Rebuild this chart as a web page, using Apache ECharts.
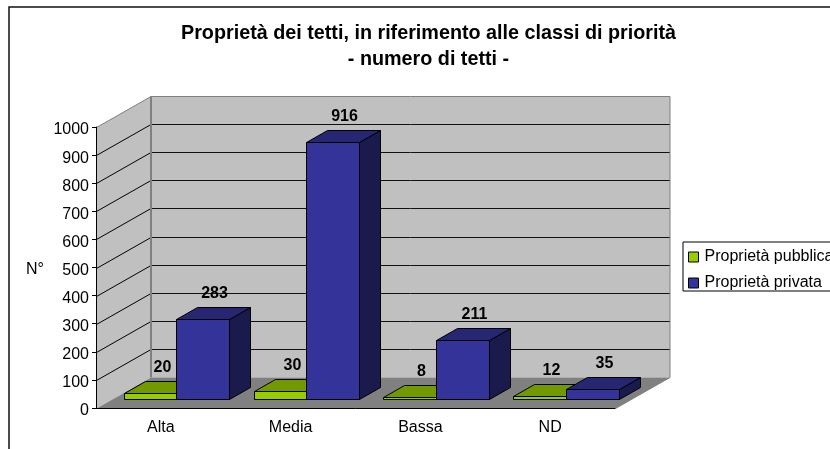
<!DOCTYPE html>
<html>
<head>
<meta charset="utf-8">
<script src="https://cdn.jsdelivr.net/npm/echarts@6/dist/echarts.min.js"></script>
<style>html,body{margin:0;padding:0;background:#fff;overflow:hidden}</style>
</head>
<body>
<div id="main" style="width:830px;height:449px"></div>
<script>
const categories = ['Alta', 'Media', 'Bassa', 'ND'];
const pubblica = [20, 30, 8, 12];
const privata = [283, 916, 211, 35];
const yTicks = [100, 200, 300, 400, 500, 600, 700, 800, 900];

const FONT = '"Liberation Sans", Arial, sans-serif';
// profondita' della scena 3D in pixel
const WALL_DX = 54.5, WALL_DY = 31;
const BAR_DX = 15.5, BAR_DY = 9;
const DEPTH_DX = 21, DEPTH_DY = 12;
const BAR_W = 0.405;

const crisp = v => Math.round(v) + 0.5;

function poly(points, fill, stroke, lw) {
  return {
    type: 'polygon',
    shape: { points: points },
    style: { fill: fill, stroke: stroke, lineWidth: lw === undefined ? 1 : lw }
  };
}
function seg(x1, y1, x2, y2, color, lw) {
  return {
    type: 'line',
    shape: { x1: x1, y1: y1, x2: x2, y2: y2 },
    style: { stroke: color, lineWidth: lw || 1 }
  };
}

// pareti, pavimento
function renderWalls(params, api) {
  const half = api.size([1, 0])[0] / 2;
  const l = crisp(api.coord([0, 0])[0] - half);
  const r = crisp(api.coord([categories.length - 1, 0])[0] + half);
  const y0 = crisp(api.coord([0, 0])[1]);
  const y1 = crisp(api.coord([0, 1000])[1]);
  const dx = WALL_DX, dy = WALL_DY;
  const kids = [
    poly([[l, y1], [l + dx, y1 - dy], [l + dx, y0 - dy], [l, y0]], '#C0C0C0', 'none', 0),
    poly([[l + dx, y1 - dy], [r + dx, y1 - dy], [r + dx, y0 - dy], [l + dx, y0 - dy]], '#C0C0C0', 'none', 0),
    poly([[l, y0], [l + dx, y0 - dy], [r + dx, y0 - dy], [r, y0]], '#808080', 'none', 0)
  ];
  yTicks.forEach(t => {
    const y = crisp(api.coord([0, t])[1]);
    kids.push(seg(l, y, l + dx, y - dy, '#000'));
    kids.push(seg(l + dx, y - dy, r + dx, y - dy, '#111'));
  });
  kids.push(seg(l, y1, l + dx, y1 - dy, '#808080'));
  kids.push(seg(l + dx, y1 - dy, r + dx, y1 - dy, '#808080'));
  kids.push(seg(l + dx, y1 - dy, l + dx, y0 - dy, '#808080', 2));
  kids.push(seg(r + dx, y1 - dy, r + dx, y0 - dy, '#808080'));
  kids.push(seg(r, y0, r + dx, y0 - dy, '#808080'));
  return { type: 'group', children: kids };
}

// barra 3D: fronte, faccia superiore, lato
function barRenderer(side, front, top, dark) {
  return function (params, api) {
    const base = api.coord([api.value(0), 0]);
    const head = api.coord([api.value(0), api.value(1)]);
    const w = api.size([1, 0])[0] * BAR_W;
    const x0 = Math.round(base[0] + side * w + BAR_DX) + 0.5;
    const x1 = x0 + Math.round(w);
    const yb = Math.round(base[1] - BAR_DY) + 0.5;
    const yt = Math.round(head[1] - BAR_DY) + 0.5;
    const dx = DEPTH_DX, dy = DEPTH_DY;
    return {
      type: 'group',
      children: [
        poly([[x1, yb], [x1 + dx, yb - dy], [x1 + dx, yt - dy], [x1, yt]], dark, '#000'),
        poly([[x0, yt], [x0 + dx, yt - dy], [x1 + dx, yt - dy], [x1, yt]], top, '#000'),
        poly([[x0, yb], [x1, yb], [x1, yt], [x0, yt]], front, '#000'),
        {
          type: 'text',
          style: {
            x: (x0 + x1) / 2 + dx / 2 + 1,
            y: yt - dy / 2 - 20,
            text: String(api.value(1)),
            font: 'bold 16px ' + FONT,
            fill: '#000',
            align: 'center',
            verticalAlign: 'middle'
          }
        }
      ]
    };
  };
}

const chart = echarts.init(document.getElementById('main'));
chart.setOption({
  animation: false,
  backgroundColor: '#fff',
  title: {
    text: 'Proprietà dei tetti, in riferimento alle classi di priorità\n- numero di tetti -',
    left: 423.5,
    top: 16,
    textAlign: 'center',
    textStyle: { fontFamily: FONT, fontSize: 19.75, fontWeight: 'bold', color: '#000', lineHeight: 26 }
  },
  legend: {
    orient: 'vertical',
    left: 683,
    top: 242,
    padding: [7, 6, 0, 5],
    itemGap: 10,
    itemWidth: 10,
    itemHeight: 10,
    borderColor: '#000',
    borderWidth: 1,
    icon: 'rect',
    data: ['Proprietà pubblica', 'Proprietà privata'],
    textStyle: { fontFamily: FONT, fontSize: 16, color: '#000', padding: [0, 0, 0, 1], lineHeight: 6, verticalAlign: 'top' },
    itemStyle: { borderColor: '#000', borderWidth: 1 }
  },
  grid: { left: 96, right: 215, top: 127, bottom: 41 },
  xAxis: {
    type: 'category',
    data: categories,
    z: 5,
    axisLine: { lineStyle: { color: '#000' } },
    axisTick: { length: 4, lineStyle: { color: '#000' } },
    axisLabel: { fontFamily: FONT, fontSize: 16, color: '#000', margin: 12 }
  },
  yAxis: {
    type: 'value',
    min: 0,
    max: 1000,
    interval: 100,
    z: 5,
    name: 'N°',
    nameLocation: 'middle',
    nameRotate: 0,
    nameGap: 52,
    nameTextStyle: { fontFamily: FONT, fontSize: 16, color: '#000', verticalAlign: 'top', lineHeight: 4 },
    axisLine: { show: true, lineStyle: { color: '#000' } },
    axisTick: { show: true, length: 4, lineStyle: { color: '#000' } },
    axisLabel: { fontFamily: FONT, fontSize: 16, color: '#000', margin: 7, verticalAlign: 'top', lineHeight: 6, formatter: v => String(v) },
    splitLine: { show: false }
  },
  series: [
    { name: 'walls', type: 'custom', z: 1, silent: true, data: [[0, 0]], renderItem: renderWalls,
      encode: { x: 0, y: 1 } },
    { name: 'Proprietà pubblica', type: 'custom', z: 2, silent: true,
      itemStyle: { color: '#99CC00' },
      data: pubblica.map((v, i) => [i, v]), encode: { x: 0, y: 1 },
      renderItem: barRenderer(-1, '#99CC00', '#739900', '#4D6600') },
    { name: 'Proprietà privata', type: 'custom', z: 3, silent: true,
      itemStyle: { color: '#333399' },
      data: privata.map((v, i) => [i, v]), encode: { x: 0, y: 1 },
      renderItem: barRenderer(0, '#333399', '#262673', '#1A1A4D') }
  ],
  graphic: [{
    type: 'rect',
    silent: true,
    z: -1,
    shape: { x: 9, y: 7, width: 840, height: 460 },
    style: { fill: 'none', stroke: '#111', lineWidth: 1.5 }
  }]
});
</script>
</body>
</html>
